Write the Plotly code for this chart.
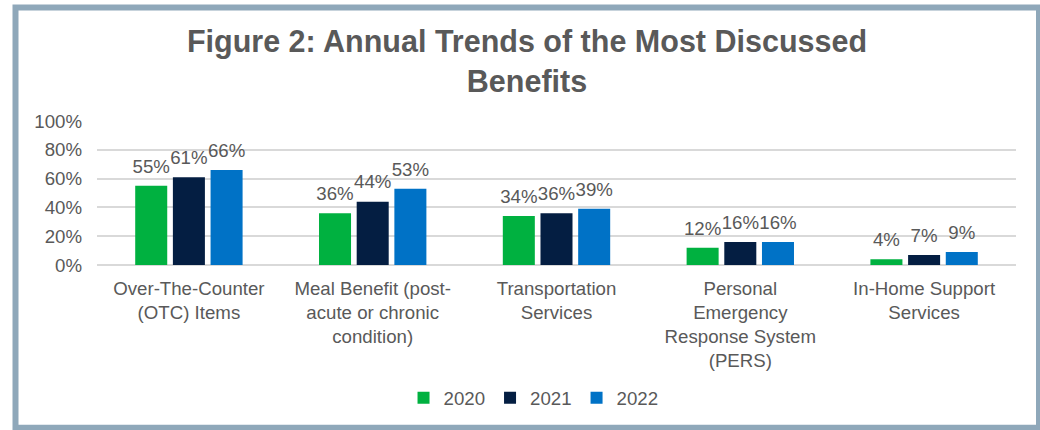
import plotly.graph_objects as go

categories = [
    "Over-The-Counter<br>(OTC) Items",
    "Meal Benefit (post-<br>acute or chronic<br>condition)",
    "Transportation<br>Services",
    "Personal<br>Emergency<br>Response System<br>(PERS)",
    "In-Home Support<br>Services",
]
years = ["2020", "2021", "2022"]
v2020 = [55, 36, 34, 12, 4]
v2021 = [61, 44, 36, 16, 7]
v2022 = [66, 53, 39, 16, 9]
colors = ["#00B140", "#041E42", "#0072C6"]
y_ticks = [0, 20, 40, 60, 80, 100]

W, H = 1040, 430
L, R, T, B = 97, 24, 121, 163
pw, ph = W - L - R, H - T - B
TXT = "#595959"
FONT = "Arial, Liberation Sans, sans-serif"
GAP = 0.385

def px_x(x):
    return (x - L) / pw

def px_y(y):
    return (H - B - y) / ph

fig = go.Figure()
for name, vals, col in zip(years, [v2020, v2021, v2022], colors):
    fig.add_trace(go.Bar(
        x=categories, y=vals, name=name, marker_color=col,
        marker_line_width=0, hoverinfo="skip",
        offsetgroup=name, alignmentgroup="a",
    ))
# value labels, grouped like the bars
for name, vals in zip(years, [v2020, v2021, v2022]):
    fig.add_trace(go.Scatter(
        x=categories, y=vals, mode="markers+text",
        marker=dict(size=12, color="rgba(0,0,0,0)"),
        text=[f"{v}%" for v in vals], textposition="top center",
        textfont=dict(size=18.67, color=TXT, family=FONT),
        showlegend=False, hoverinfo="skip", cliponaxis=False,
        offsetgroup=name, alignmentgroup="a",
    ))

fig.update_layout(
    width=W, height=H,
    margin=dict(l=L, r=R, t=T, b=B, pad=0),
    paper_bgcolor="white", plot_bgcolor="white",
    barmode="group", bargap=GAP, bargroupgap=0.15,
    scattermode="group", scattergap=GAP,
    font=dict(family=FONT, color=TXT, size=18.67),
    title=dict(
        text="Figure 2: Annual Trends of the Most Discussed<br>Benefits",
        x=527 / W, xanchor="center", xref="container",
        y=1 - 52 / H, yanchor="top", yref="container",
        font=dict(size=30.5, color=TXT, family=FONT, weight="bold"),
    ),
    showlegend=True,
    legend=dict(
        orientation="h", x=0.475, xanchor="center",
        y=px_y(402), yanchor="middle",
        font=dict(size=18.67, color=TXT),
        itemwidth=30, traceorder="normal",
    ),
)
fig.update_yaxes(
    range=[0, 100], tickvals=y_ticks, ticktext=[f"{t}%" for t in y_ticks],
    showgrid=True, gridcolor="#D9D9D9", gridwidth=1.5,
    zeroline=True, zerolinecolor="#D9D9D9", zerolinewidth=1.5,
    showline=False, ticks="", ticklabelstandoff=14,
    tickfont=dict(size=18.67, color=TXT),
    fixedrange=True,
)
fig.update_xaxes(
    showline=False, ticks="", ticklabelstandoff=10,
    tickfont=dict(size=18.67, color=TXT),
    fixedrange=True,
)

# chart frame
fig.add_shape(
    type="rect", xref="paper", yref="paper",
    x0=px_x(15.5), x1=px_x(1039), y0=px_y(432), y1=px_y(6),
    line=dict(color="#8FA8BA", width=6), fillcolor="rgba(0,0,0,0)",
    layer="below",
)

fig.write_html("out.html")
